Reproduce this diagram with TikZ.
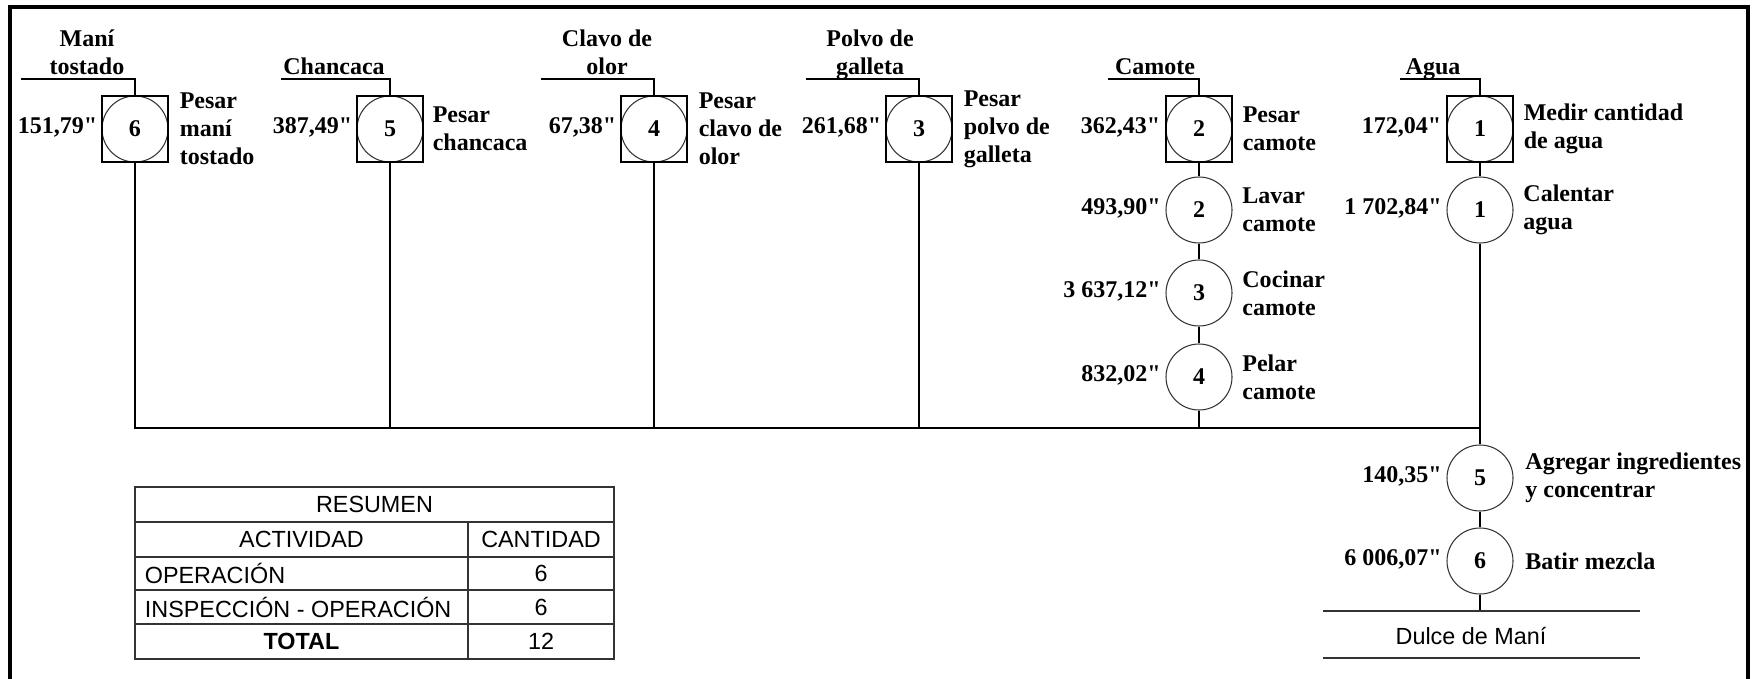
\documentclass[tikz,border=0pt]{standalone}
\usepackage{fontspec}
\setmainfont{Liberation Serif}[Ligatures=TeXOff]
\setsansfont{Liberation Sans}
\usetikzlibrary{positioning}
\newcommand\diagfont{\bfseries\fontsize{13.66}{15.9}\selectfont}
\newcommand\tabfont{\sffamily\fontsize{13.3}{15}\selectfont}

\begin{document}
\begin{tikzpicture}[x=1cm, y=-1cm, line width=1pt,
    insp/.style = {draw, minimum size=1.32cm, inner sep=0, font=\diagfont,
                   path picture={\draw[line width=0.6pt, black!80]
                     (path picture bounding box.center) circle (0.66cm);}},
    oper/.style = {draw=black!80, circle, line width=0.6pt,
                   minimum size=1.32cm, inner sep=0, font=\diagfont},
    tm/.style   = {inner sep=0, font=\diagfont},
    dsc/.style  = {inner sep=0, align=left, font=\diagfont},
    hd/.style   = {inner sep=0, align=center, font=\diagfont, anchor=base},
    tbl/.style  = {inner sep=0, font=\tabfont},
  ]
  \useasboundingbox (0,0) rectangle (35.12,13.56);
  % frame
  \draw[line width=0.07cm] (0.2,14) -- (0.2,0.14) -- (34.96,0.14) -- (34.96,14);

  % inspection - operation steps
  \node[insp] (mani) at (2.70,2.58) {6};
  \node[insp] (chancaca) at (7.80,2.58) {5};
  \node[insp] (clavo) at (13.08,2.58) {4};
  \node[insp] (polvo) at (18.38,2.58) {3};
  \node[insp] (camote1) at (23.98,2.58) {2};
  \node[insp] (agua1) at (29.60,2.58) {1};
  % operations
  \node[oper] (camote2) at (23.98,4.20) {2};
  \node[oper] (camote3) at (23.98,5.86) {3};
  \node[oper] (camote4) at (23.98,7.54) {4};
  \node[oper] (agua2) at (29.60,4.20) {1};
  \node[oper] (mezcla1) at (29.60,9.56) {5};
  \node[oper] (mezcla2) at (29.60,11.22) {6};

  % times
  \node[tm, left=0.06cm of mani, yshift=1pt] (tmani) {151,79"};
  \node[tm, left=0.06cm of chancaca, yshift=1pt] (tchancaca) {387,49"};
  \node[tm, left=0.06cm of clavo, yshift=1pt] (tclavo) {67,38"};
  \node[tm, left=0.06cm of polvo, yshift=1pt] (tpolvo) {261,68"};
  \node[tm, left=0.08cm of camote1, yshift=1pt] (tcamote1) {362,43"};
  \node[tm, left=0.08cm of camote2, yshift=1pt] (tcamote2) {493,90"};
  \node[tm, left=0.08cm of camote3, yshift=1pt] (tcamote3) {3 637,12"};
  \node[tm, left=0.08cm of camote4, yshift=1pt] (tcamote4) {832,02"};
  \node[tm, left=0.08cm of agua1, yshift=1pt] (tagua1) {172,04"};
  \node[tm, left=0.08cm of agua2, yshift=1pt] (tagua2) {1 702,84"};
  \node[tm, left=0.08cm of mezcla1, yshift=1pt] (tmezcla1) {140,35"};
  \node[tm, left=0.08cm of mezcla2, yshift=1pt] (tmezcla2) {6 006,07"};

  % descriptions
  \node[dsc, right=0.2cm of mani] (dmani) {Pesar\\maní\\tostado};
  \node[dsc, right=0.16cm of chancaca] (dchancaca) {Pesar\\chancaca};
  \node[dsc, right=0.2cm of clavo] (dclavo) {Pesar\\clavo de\\olor};
  \node[dsc, right=0.2cm of polvo] (dpolvo) {Pesar\\polvo de\\galleta};
  \node[dsc, right=0.18cm of camote1] (dcamote1) {Pesar\\camote};
  \node[dsc, right=0.18cm of camote2] (dcamote2) {Lavar\\camote};
  \node[dsc, right=0.18cm of camote3] (dcamote3) {Cocinar\\camote};
  \node[dsc, right=0.18cm of camote4] (dcamote4) {Pelar\\camote};
  \node[dsc, right=0.18cm of agua1] (dagua1) {Medir cantidad\\de agua};
  \node[dsc, right=0.18cm of agua2] (dagua2) {Calentar\\agua};
  \node[dsc, right=0.22cm of mezcla1] (dmezcla1) {Agregar ingredientes\\y concentrar};
  \node[dsc, right=0.22cm of mezcla2] (dmezcla2) {Batir mezcla};

  % raw materials
  \node[hd] (hmani) at (1.74,1.48) {Maní\\tostado};
  \node[hd] (hchancaca) at (6.68,1.48) {Chancaca};
  \node[hd] (hclavo) at (12.14,1.48) {Clavo de\\olor};
  \node[hd] (hpolvo) at (17.40,1.48) {Polvo de\\galleta};
  \node[hd] (hcamote) at (23.10,1.48) {Camote};
  \node[hd] (hagua) at (28.66,1.48) {Agua};
  \coordinate (lmani) at (0.42,1.58);
  \coordinate (lchancaca) at (5.62,1.58);
  \coordinate (lclavo) at (10.82,1.58);
  \coordinate (lpolvo) at (16.12,1.58);
  \coordinate (lcamote) at (22.16,1.58);
  \coordinate (lagua) at (28.00,1.58);
  \draw (lmani) -| (mani);
  \draw (lchancaca) -| (chancaca);
  \draw (lclavo) -| (clavo);
  \draw (lpolvo) -| (polvo);
  \draw (lcamote) -| (camote1);
  \draw (lagua) -| (agua1);

  % flow
  \coordinate (join) at (29.60,8.56);
  \draw (mani) |- (join);
  \draw (chancaca) |- (join);
  \draw (clavo) |- (join);
  \draw (polvo) |- (join);
  \draw (camote1) -- (camote2);
  \draw (camote2) -- (camote3);
  \draw (camote3) -- (camote4);
  \draw (camote4) |- (join);
  \draw (agua1) -- (agua2);
  \draw (agua2) -- (mezcla1);
  \draw (mezcla1) -- (mezcla2);

  % product
  \coordinate (pl1) at (26.46,12.22);
  \coordinate (pr1) at (32.80,12.22);
  \coordinate (pl2) at (26.46,13.16);
  \coordinate (pr2) at (32.80,13.16);
  \draw (mezcla2) -- (mezcla2 |- pl1);
  \draw[black!80] (pl1) -- (pr1);
  \draw[black!80] (pl2) -- (pr2);
  \node[tbl] (dulce) at (29.42,12.72) {Dulce de Maní};

  % summary table
  \draw[black!80, line width=0.8pt] (2.70,9.74) rectangle (12.28,13.18);
  \foreach \y in {10.44, 11.14, 11.80, 12.48}
    \draw[black!80, line width=0.8pt] (2.70,\y) -- (12.28,\y);
  \draw[black!80, line width=0.8pt] (9.36,10.44) -- (9.36,13.18);
  \node[tbl] (resumen) at (7.49,10.09) {RESUMEN};
  \node[tbl] (actividad) at (6.03,10.79) {ACTIVIDAD};
  \node[tbl] (cantidad) at (10.82,10.79) {CANTIDAD};
  \node[tbl, anchor=west] (operacion) at (2.88,11.47) {OPERACIÓN};
  \node[tbl] (noperacion) at (10.82,11.47) {6};
  \node[tbl, anchor=west] (inspeccion) at (2.88,12.14) {INSPECCIÓN - OPERACIÓN};
  \node[tbl] (ninspeccion) at (10.82,12.14) {6};
  \node[tbl, font=\tabfont\bfseries] (total) at (6.03,12.83) {TOTAL};
  \node[tbl] (ntotal) at (10.82,12.83) {12};
\end{tikzpicture}
\end{document}
